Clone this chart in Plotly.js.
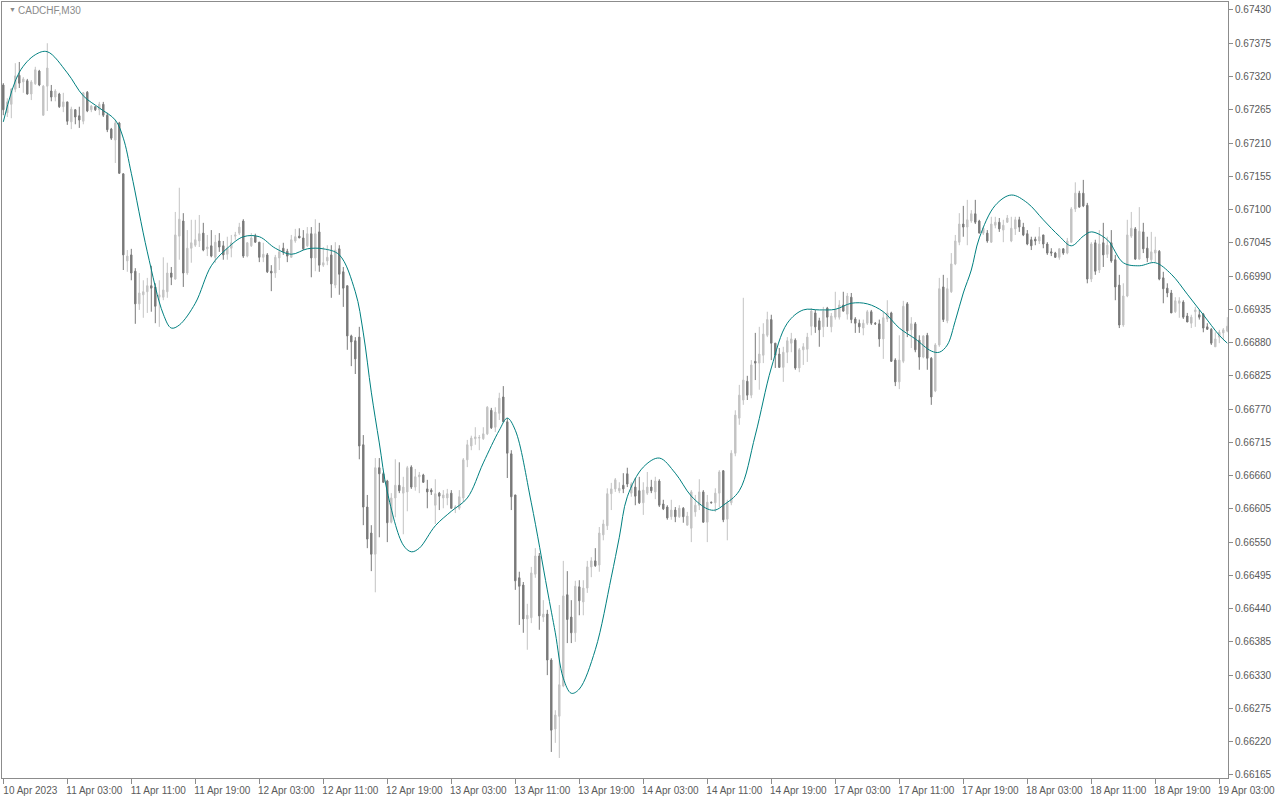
<!DOCTYPE html>
<html>
<head>
<meta charset="utf-8">
<script src="https://cdn.plot.ly/plotly-3.0.1.min.js"></script>
<style>
html,body{margin:0;padding:0;background:#fff;}
#chart{width:1280px;height:800px;}
</style>
</head>
<body>
<div id="chart"></div>
<script>
// CADCHF M30 candles (one entry per bar, oldest first)
const openP = [
0.67306,0.67260,0.67274,0.67299,0.67322,0.67311,0.67313,0.67291,0.67308,0.67329,
0.67256,0.67304,0.67296,0.67286,0.67291,0.67270,0.67278,0.67245,0.67265,0.67255,
0.67246,0.67294,0.67265,0.67270,0.67265,0.67274,0.67256,0.67233,0.67215,0.67243,
0.67159,0.67015,0.67025,0.66998,0.66944,0.66959,0.66964,0.66974,0.66972,0.66955,
0.66955,0.66964,0.66995,0.66985,0.67056,0.67081,0.66995,0.67036,0.67041,0.67048,
0.67061,0.67035,0.67040,0.67021,0.67048,0.67040,0.67026,0.67036,0.67056,0.67061,
0.67081,0.67023,0.67040,0.67056,0.67046,0.67021,0.67025,0.66998,0.66995,0.67020,
0.67036,0.67031,0.67021,0.67048,0.67056,0.67053,0.67040,0.67060,0.67020,0.67063,
0.67008,0.67015,0.67025,0.66975,0.67035,0.66997,0.66974,0.66891,0.66883,0.66889,
0.66711,0.66608,0.66565,0.66530,0.66673,0.66663,0.66651,0.66583,0.66623,0.66644,
0.66631,0.66633,0.66674,0.66641,0.66658,0.66661,0.66638,0.66636,0.66611,0.66631,
0.66623,0.66623,0.66631,0.66606,0.66606,0.66623,0.66686,0.66709,0.66721,0.66722,
0.66721,0.66729,0.66768,0.66740,0.66763,0.66790,0.66749,0.66696,0.66628,0.66491,
0.66479,0.66423,0.66425,0.66497,0.66527,0.66426,0.66431,0.66355,0.66241,0.66262,
0.66312,0.66463,0.66426,0.66400,0.66476,0.66451,0.66474,0.66509,0.66519,0.66512,
0.66562,0.66577,0.66630,0.66638,0.66635,0.66644,0.66663,0.66631,0.66641,0.66635,
0.66615,0.66631,0.66641,0.66633,0.66651,0.66613,0.66608,0.66592,0.66603,0.66592,
0.66606,0.66578,0.66573,0.66600,0.66611,0.66633,0.66583,0.66616,0.66615,0.66631,
0.66668,0.66588,0.66615,0.66697,0.66755,0.66785,0.66816,0.66793,0.66849,0.66846,
0.66859,0.66892,0.66918,0.66879,0.66861,0.66839,0.66864,0.66879,0.66884,0.66838,
0.66868,0.66869,0.66907,0.66929,0.66916,0.66906,0.66937,0.66906,0.66922,0.66922,
0.66942,0.66927,0.66955,0.66919,0.66912,0.66904,0.66912,0.66931,0.66912,0.66911,
0.66886,0.66919,0.66929,0.66851,0.66815,0.66849,0.66944,0.66901,0.66911,0.66884,
0.66856,0.66892,0.66854,0.66800,0.66876,0.66972,0.66916,0.66964,0.67010,0.67046,
0.67076,0.67071,0.67081,0.67093,0.67081,0.67061,0.67061,0.67046,0.67074,0.67079,
0.67066,0.67079,0.67048,0.67068,0.67083,0.67071,0.67060,0.67050,0.67051,0.67048,
0.67058,0.67043,0.67030,0.67028,0.67021,0.67035,0.67028,0.67046,0.67101,0.67127,
0.67127,0.67107,0.66985,0.67045,0.67000,0.67045,0.67026,0.67045,0.67017,0.66975,
0.66909,0.66957,0.67056,0.67068,0.67018,0.67063,0.67036,0.67017,0.67028,0.67031,
0.66987,0.66970,0.66962,0.66931,0.66945,0.66947,0.66924,0.66912,0.66931,0.66926,
0.66927,0.66906,0.66902,0.66873,0.66889,0.66896,0.66899
];
const highP = [
0.67309,0.67284,0.67301,0.67342,0.67344,0.67319,0.67316,0.67314,0.67336,0.67331,
0.67306,0.67375,0.67306,0.67299,0.67293,0.67293,0.67278,0.67270,0.67266,0.67270,
0.67294,0.67296,0.67273,0.67271,0.67278,0.67278,0.67260,0.67235,0.67248,0.67245,
0.67160,0.67033,0.67035,0.67003,0.66995,0.66983,0.66987,0.67007,0.66978,0.66983,
0.67021,0.67012,0.67005,0.67096,0.67136,0.67094,0.67066,0.67083,0.67083,0.67091,
0.67078,0.67058,0.67066,0.67058,0.67061,0.67048,0.67055,0.67058,0.67063,0.67078,
0.67084,0.67046,0.67061,0.67060,0.67046,0.67045,0.67028,0.67008,0.67025,0.67041,
0.67045,0.67035,0.67058,0.67068,0.67069,0.67066,0.67071,0.67071,0.67084,0.67078,
0.67038,0.67041,0.67041,0.67046,0.67041,0.67005,0.66974,0.66893,0.66889,0.66906,
0.66727,0.66628,0.66578,0.66689,0.66689,0.66666,0.66653,0.66631,0.66687,0.66682,
0.66658,0.66676,0.66677,0.66671,0.66666,0.66663,0.66653,0.66639,0.66654,0.66633,
0.66636,0.66638,0.66636,0.66611,0.66636,0.66689,0.66719,0.66726,0.66740,0.66727,
0.66740,0.66775,0.66772,0.66773,0.66797,0.66808,0.66755,0.66702,0.66628,0.66501,
0.66484,0.66448,0.66509,0.66540,0.66532,0.66454,0.66438,0.66358,0.66272,0.66446,
0.66519,0.66502,0.66454,0.66486,0.66487,0.66487,0.66519,0.66525,0.66540,0.66575,
0.66587,0.66639,0.66648,0.66656,0.66649,0.66664,0.66673,0.66649,0.66656,0.66658,
0.66649,0.66666,0.66653,0.66658,0.66654,0.66620,0.66611,0.66620,0.66608,0.66611,
0.66608,0.66600,0.66636,0.66628,0.66654,0.66636,0.66628,0.66617,0.66639,0.66669,
0.66669,0.66620,0.66702,0.66768,0.66810,0.66954,0.66825,0.66851,0.66896,0.66906,
0.66912,0.66931,0.66926,0.66879,0.66871,0.66873,0.66889,0.66896,0.66887,0.66871,
0.66879,0.66896,0.66937,0.66934,0.66921,0.66939,0.66939,0.66929,0.66964,0.66950,
0.66964,0.66962,0.66962,0.66922,0.66918,0.66918,0.66934,0.66934,0.66914,0.66918,
0.66931,0.66950,0.66931,0.66854,0.66892,0.66949,0.66947,0.66922,0.66914,0.66892,
0.66892,0.66896,0.66856,0.66879,0.66987,0.66992,0.66987,0.67028,0.67058,0.67094,
0.67106,0.67116,0.67099,0.67116,0.67083,0.67071,0.67066,0.67088,0.67088,0.67086,
0.67083,0.67091,0.67088,0.67088,0.67088,0.67078,0.67066,0.67055,0.67055,0.67071,
0.67058,0.67046,0.67036,0.67030,0.67036,0.67036,0.67053,0.67104,0.67145,0.67131,
0.67149,0.67111,0.67046,0.67050,0.67066,0.67078,0.67055,0.67066,0.67025,0.66992,
0.66978,0.67083,0.67096,0.67071,0.67104,0.67078,0.67055,0.67063,0.67055,0.67033,
0.66997,0.66978,0.66967,0.66955,0.66955,0.66950,0.66929,0.66926,0.66939,0.66934,
0.66929,0.66912,0.66904,0.66897,0.66901,0.66904,0.66922
];
const lowP = [
0.67256,0.67253,0.67251,0.67294,0.67301,0.67293,0.67290,0.67281,0.67306,0.67304,
0.67255,0.67263,0.67279,0.67279,0.67268,0.67261,0.67240,0.67233,0.67241,0.67235,
0.67241,0.67261,0.67261,0.67263,0.67256,0.67253,0.67228,0.67215,0.67177,0.67159,
0.67000,0.66997,0.66983,0.66911,0.66934,0.66921,0.66929,0.66931,0.66912,0.66906,
0.66950,0.66954,0.66975,0.66984,0.67017,0.66972,0.66992,0.67012,0.67038,0.67038,
0.67031,0.67023,0.67021,0.67012,0.67030,0.67017,0.67017,0.67021,0.67050,0.67058,
0.67020,0.67021,0.67038,0.67045,0.67013,0.67013,0.66995,0.66965,0.66987,0.67000,
0.67025,0.67013,0.67021,0.67045,0.67053,0.67033,0.67038,0.66988,0.66998,0.66997,
0.67005,0.67008,0.66954,0.66970,0.66959,0.66939,0.66868,0.66841,0.66828,0.66687,
0.66578,0.66540,0.66502,0.66467,0.66558,0.66648,0.66550,0.66581,0.66591,0.66631,
0.66563,0.66601,0.66638,0.66635,0.66631,0.66648,0.66606,0.66628,0.66580,0.66603,
0.66606,0.66611,0.66605,0.66598,0.66603,0.66616,0.66674,0.66702,0.66711,0.66702,
0.66719,0.66727,0.66737,0.66732,0.66752,0.66749,0.66656,0.66603,0.66471,0.66413,
0.66400,0.66372,0.66416,0.66491,0.66405,0.66418,0.66330,0.66203,0.66218,0.66193,
0.66310,0.66383,0.66383,0.66385,0.66429,0.66429,0.66466,0.66492,0.66509,0.66501,
0.66553,0.66570,0.66603,0.66633,0.66631,0.66631,0.66641,0.66625,0.66611,0.66613,
0.66595,0.66628,0.66631,0.66621,0.66608,0.66603,0.66587,0.66587,0.66583,0.66590,
0.66582,0.66578,0.66550,0.66592,0.66603,0.66582,0.66550,0.66614,0.66600,0.66608,
0.66583,0.66553,0.66611,0.66692,0.66744,0.66777,0.66785,0.66788,0.66818,0.66802,
0.66846,0.66889,0.66851,0.66838,0.66838,0.66815,0.66846,0.66864,0.66835,0.66831,
0.66843,0.66848,0.66892,0.66896,0.66873,0.66889,0.66906,0.66897,0.66918,0.66918,
0.66931,0.66918,0.66912,0.66896,0.66896,0.66892,0.66909,0.66909,0.66909,0.66873,
0.66853,0.66914,0.66848,0.66808,0.66803,0.66846,0.66889,0.66871,0.66864,0.66835,
0.66854,0.66835,0.66777,0.66798,0.66873,0.66914,0.66912,0.66962,0.67008,0.67041,
0.67055,0.67041,0.67078,0.67076,0.67061,0.67058,0.67045,0.67045,0.67069,0.67063,
0.67046,0.67078,0.67046,0.67058,0.67063,0.67056,0.67041,0.67033,0.67041,0.67043,
0.67036,0.67025,0.67023,0.67020,0.67017,0.67025,0.67026,0.67045,0.67096,0.67103,
0.67104,0.66978,0.66980,0.66992,0.66995,0.67005,0.67020,0.67012,0.66950,0.66904,
0.66906,0.66955,0.67053,0.67017,0.67017,0.67028,0.67013,0.67012,0.67013,0.66983,
0.66945,0.66955,0.66929,0.66929,0.66921,0.66919,0.66914,0.66904,0.66906,0.66918,
0.66897,0.66901,0.66876,0.66873,0.66879,0.66884,0.66897
];
const closeP = [
0.67265,0.67278,0.67299,0.67321,0.67309,0.67316,0.67291,0.67311,0.67331,0.67306,
0.67304,0.67334,0.67286,0.67296,0.67270,0.67278,0.67246,0.67266,0.67253,0.67248,
0.67293,0.67263,0.67271,0.67265,0.67274,0.67256,0.67232,0.67218,0.67243,0.67160,
0.67025,0.67023,0.66995,0.66944,0.66962,0.66964,0.66974,0.66970,0.66940,0.66959,
0.66967,0.66995,0.66988,0.67058,0.67084,0.66995,0.67036,0.67045,0.67050,0.67060,
0.67033,0.67038,0.67023,0.67046,0.67038,0.67025,0.67036,0.67045,0.67058,0.67071,
0.67023,0.67045,0.67053,0.67046,0.67021,0.67026,0.66997,0.66995,0.67021,0.67030,
0.67030,0.67023,0.67050,0.67055,0.67053,0.67035,0.67060,0.67020,0.67060,0.67008,
0.67012,0.67021,0.66977,0.67033,0.66993,0.66970,0.66891,0.66881,0.66853,0.66709,
0.66608,0.66555,0.66530,0.66673,0.66663,0.66649,0.66582,0.66623,0.66644,0.66635,
0.66641,0.66673,0.66641,0.66658,0.66661,0.66649,0.66633,0.66633,0.66630,0.66626,
0.66628,0.66630,0.66606,0.66608,0.66625,0.66686,0.66711,0.66722,0.66724,0.66723,
0.66729,0.66773,0.66739,0.66765,0.66788,0.66749,0.66697,0.66625,0.66486,0.66477,
0.66423,0.66429,0.66499,0.66527,0.66428,0.66431,0.66355,0.66239,0.66264,0.66314,
0.66461,0.66422,0.66400,0.66477,0.66453,0.66474,0.66509,0.66519,0.66511,0.66565,
0.66580,0.66630,0.66638,0.66653,0.66639,0.66638,0.66646,0.66646,0.66626,0.66615,
0.66636,0.66641,0.66635,0.66651,0.66611,0.66605,0.66590,0.66603,0.66592,0.66606,
0.66592,0.66593,0.66633,0.66611,0.66633,0.66583,0.66616,0.66615,0.66631,0.66666,
0.66587,0.66615,0.66697,0.66760,0.66793,0.66818,0.66793,0.66843,0.66846,0.66861,
0.66894,0.66918,0.66879,0.66859,0.66839,0.66864,0.66883,0.66886,0.66838,0.66868,
0.66873,0.66889,0.66932,0.66906,0.66901,0.66932,0.66922,0.66924,0.66935,0.66942,
0.66932,0.66957,0.66918,0.66912,0.66906,0.66912,0.66931,0.66912,0.66911,0.66886,
0.66921,0.66929,0.66849,0.66815,0.66851,0.66940,0.66899,0.66911,0.66868,0.66856,
0.66891,0.66854,0.66790,0.66876,0.66969,0.66918,0.66969,0.67010,0.67048,0.67076,
0.67071,0.67083,0.67093,0.67079,0.67061,0.67069,0.67048,0.67076,0.67079,0.67068,
0.67074,0.67086,0.67069,0.67083,0.67071,0.67058,0.67043,0.67040,0.67048,0.67055,
0.67043,0.67028,0.67028,0.67021,0.67035,0.67028,0.67048,0.67101,0.67127,0.67104,
0.67106,0.66985,0.67043,0.66998,0.67043,0.67025,0.67041,0.67015,0.66972,0.66909,
0.66957,0.67058,0.67069,0.67018,0.67064,0.67035,0.67020,0.67030,0.67033,0.66985,
0.66969,0.66962,0.66929,0.66949,0.66949,0.66922,0.66914,0.66922,0.66934,0.66922,
0.66904,0.66902,0.66879,0.66886,0.66897,0.66901,0.66907
];

// smoothed moving average (teal line), read at these bar numbers
const lineBar = [1,5,9,12,17,21,25,29,31,33,37,41,43,45,49,53,57,61,65,69,73,77,81,85,89,91,93,95,97,101,103,105,109,113,117,121,125,127,129,133,137,139,141,143,145,149,153,155,157,161,165,169,173,177,179,181,185,189,193,197,201,205,209,213,217,221,225,229,233,235,237,239,241,243,245,249,253,257,261,265,268,271,273,277,281,285,289,293,297,301,305,307];
const lineVal = [0.67245,0.67327,0.67356,0.67361,0.67326,0.67288,0.67268,0.67248,0.67218,0.67160,
0.67030,0.66927,0.66904,0.66909,0.66945,0.67007,0.67036,0.67055,0.67055,0.67036,
0.67026,0.67035,0.67035,0.67025,0.66964,0.66896,0.66798,0.66714,0.66633,0.66545,
0.66534,0.66540,0.66577,0.66601,0.66623,0.66681,0.66735,0.66755,0.66735,0.66615,
0.66471,0.66400,0.66325,0.66300,0.66307,0.66372,0.66492,0.66558,0.66625,0.66674,
0.66689,0.66664,0.66626,0.66605,0.66603,0.66611,0.66635,0.66727,0.66838,0.66912,
0.66934,0.66934,0.66935,0.66945,0.66944,0.66931,0.66904,0.66886,0.66866,0.66864,
0.66876,0.66916,0.66962,0.67000,0.67053,0.67107,0.67124,0.67111,0.67083,0.67056,
0.67040,0.67056,0.67063,0.67050,0.67012,0.67007,0.67012,0.66993,0.66960,0.66926,
0.66892,0.66879];

// axis ticks
const xTickBars = [1,17,33,49,65,81,97,113,129,145,161,177,193,209,225,241,257,273,289,305];
const xTickLabels = ["10 Apr 2023","11 Apr 03:00","11 Apr 11:00","11 Apr 19:00","12 Apr 03:00","12 Apr 11:00","12 Apr 19:00","13 Apr 03:00","13 Apr 11:00","13 Apr 19:00","14 Apr 03:00","14 Apr 11:00","14 Apr 19:00","17 Apr 03:00","17 Apr 11:00","17 Apr 19:00","18 Apr 03:00","18 Apr 11:00","18 Apr 19:00","19 Apr 03:00"];
const yTickLabels = ["0.66165","0.66220","0.66275","0.66330","0.66385","0.66440","0.66495","0.66550","0.66605","0.66660","0.66715","0.66770","0.66825","0.66880","0.66935","0.66990","0.67045","0.67100","0.67155","0.67210","0.67265","0.67320","0.67375","0.67430"];
const yTickVals = yTickLabels.map(Number);

const bars = openP.map((_, i) => i + 1);

const FONT = 'Liberation Sans, Arial, sans-serif';
const frame = '#8c8c8c';
const txt = '#5a5a5a';

const traces = [
  {
    type: 'candlestick',
    x: bars, open: openP, high: highP, low: lowP, close: closeP,
    increasing: {line: {color: '#c3c3c3', width: 1}, fillcolor: '#c3c3c3'},
    decreasing: {line: {color: '#7a7a7a', width: 1}, fillcolor: '#7a7a7a'},
    whiskerwidth: 0,
    hoverinfo: 'skip',
    showlegend: false
  },
  {
    type: 'scatter', mode: 'lines',
    x: lineBar, y: lineVal,
    line: {color: '#008080', width: 1, shape: 'spline', smoothing: 1},
    hoverinfo: 'skip', showlegend: false
  }
];

const layout = {
  width: 1280, height: 800,
  margin: {l: 2, r: 52, t: 2, b: 22, pad: 0},
  paper_bgcolor: '#ffffff', plot_bgcolor: '#ffffff',
  showlegend: false,
  boxgap: 0.5,
  font: {family: FONT, size: 10, color: txt},
  title: {text: 'CADCHF,M30', x: 18/1280, xref: 'container', xanchor: 'left',
          y: 1 - 10/800, yref: 'container', yanchor: 'middle',
          font: {family: FONT, size: 10, color: '#8a8a8a'}},
  xaxis: {
    range: [0.675, 307.175], autorange: false, fixedrange: true,
    rangeslider: {visible: false},
    showgrid: false, zeroline: false,
    showline: true, mirror: true, linecolor: frame, linewidth: 1,
    ticks: 'outside', ticklen: 5, tickcolor: frame, tickwidth: 1,
    tickmode: 'array', tickvals: xTickBars, ticktext: xTickLabels,
    ticklabelshift: 27, ticklabelstandoff: -2,
    tickfont: {family: FONT, size: 10, color: txt}
  },
  yaxis: {
    side: 'right',
    range: [0.661599, 0.674432], autorange: false, fixedrange: true,
    showgrid: false, zeroline: false,
    showline: true, mirror: true, linecolor: frame, linewidth: 1,
    ticks: 'outside', ticklen: 4, tickcolor: frame, tickwidth: 1,
    tickmode: 'array', tickvals: yTickVals, ticktext: yTickLabels,
    tickfont: {family: FONT, size: 10, color: txt}
  },
  annotations: [
    {text: '▼', xref: 'paper', yref: 'paper', x: 5/1226, y: 1 - 8/776,
     xanchor: 'left', yanchor: 'middle', showarrow: false,
     font: {family: FONT, size: 7, color: '#8a8a8a'}}
  ]
};

Plotly.newPlot('chart', traces, layout, {staticPlot: true, displayModeBar: false});
</script>
</body>
</html>
